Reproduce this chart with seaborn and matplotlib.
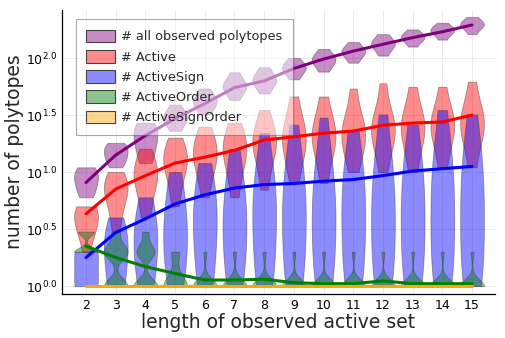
import pandas as pd
import matplotlib
matplotlib.use('Agg')
import matplotlib.pyplot as plt
from matplotlib.patches import Patch
from matplotlib.colors import to_rgba
from matplotlib.ticker import FixedLocator, FixedFormatter, NullLocator
import seaborn as sns


lengths = [2, 3, 4, 5, 6, 7, 8, 9, 10, 11, 12, 13, 14, 15]

# observed counts per active-set length (one list per length)
all_polytopes = [
    [6, 7, 8, 9, 10, 11],
    [11, 12, 13, 14, 15, 16, 17, 18],
    [12, 15, 18, 21, 24, 27],
    [23, 27, 29, 31, 33, 39],
    [32, 38, 40, 43, 46, 54],
    [43, 52, 55, 58, 62, 75],
    [49, 58, 62, 66, 70, 83],
    [65, 75, 80, 84, 88, 100],
    [76, 88, 94, 99, 104, 120],
    [91, 105, 111, 116, 121, 138],
    [105, 122, 130, 136, 142, 162],
    [126, 143, 149, 155, 160, 178],
    [145, 165, 172, 178, 184, 204],
    [162, 185, 193, 200, 207, 229],
]
active = [
    [2, 3, 3, 4, 4, 5, 5],
    [3, 4, 5, 6, 7, 7, 8, 9, 10],
    [4, 5, 7, 8, 9, 10, 11, 13, 16],
    [5, 7, 9, 11, 12, 13, 15, 17, 20],
    [6, 9, 11, 13, 15, 17, 19, 25],
    [6, 9, 12, 14, 16, 18, 21, 27],
    [7, 11, 14, 17, 19, 21, 24, 35],
    [8, 12, 15, 18, 21, 24, 28, 46],
    [8, 13, 16, 19, 22, 25, 29, 46],
    [10, 14, 17, 20, 23, 26, 31, 54],
    [10, 15, 19, 22, 25, 28, 33, 60],
    [10, 15, 19, 23, 26, 29, 34, 56],
    [11, 16, 20, 24, 27, 30, 35, 56],
    [11, 17, 21, 25, 28, 32, 38, 62],
]
active_sign = [
    [1, 1, 1, 2, 2, 2],
    [1, 1, 1, 2, 2, 2, 3, 3, 4],
    [1, 1, 1, 2, 2, 2, 3, 3, 4, 5, 6],
    [1, 1, 1, 2, 2, 2, 3, 3, 4, 5, 6, 8, 10],
    [1, 1, 1, 2, 2, 3, 3, 4, 5, 6, 7, 9, 12],
    [1, 1, 1, 2, 2, 3, 3, 4, 5, 6, 8, 10, 16],
    [1, 1, 1, 2, 2, 3, 4, 5, 6, 7, 9, 11, 22],
    [1, 1, 1, 2, 2, 3, 4, 5, 6, 8, 10, 12, 26],
    [1, 1, 1, 2, 2, 3, 4, 5, 6, 8, 10, 13, 30],
    [1, 1, 1, 2, 2, 3, 4, 5, 7, 8, 10, 13, 23],
    [1, 1, 1, 2, 2, 3, 4, 5, 7, 9, 11, 14, 32],
    [1, 1, 1, 2, 2, 3, 4, 5, 7, 9, 11, 14, 26],
    [1, 1, 1, 2, 2, 3, 4, 6, 8, 10, 12, 15, 35],
    [1, 1, 1, 2, 2, 3, 4, 6, 8, 10, 13, 15, 32],
]
active_order = [
    [2, 2, 2, 3, 3],
    [1, 1, 1, 2, 2, 2, 3],
    [1, 1, 1, 1, 2, 2, 2, 3],
    [1, 1, 1, 1, 1, 1, 2, 2],
    [1, 1, 1, 1, 1, 1, 1, 1, 2],
    [1, 1, 1, 1, 1, 1, 1, 1, 2],
    [1, 1, 1, 1, 1, 1, 1, 1, 2],
    [1, 1, 1, 1, 1, 1, 1, 1, 1, 2],
    [1, 1, 1, 1, 1, 1, 1, 1, 1, 2],
    [1, 1, 1, 1, 1, 1, 1, 1, 1, 2],
    [1, 1, 1, 1, 1, 1, 1, 1, 1, 2],
    [1, 1, 1, 1, 1, 1, 1, 1, 1, 2],
    [1, 1, 1, 1, 1, 1, 1, 1, 1, 2],
    [1, 1, 1, 1, 1, 1, 1, 1, 1, 2],
]

# mean curves
mean_all = [8.1, 14.1, 20.9, 29.5, 39.8, 55, 63, 81, 98, 115, 132, 151, 170, 195]
mean_active = [4.3, 7.1, 9.3, 12.0, 13.5, 15.5, 19.1, 20.4, 21.9, 22.9, 25.7, 26.9, 27.5, 31.6]
mean_active_sign = [1.78, 2.95, 3.89, 5.25, 6.31, 7.24, 7.76, 7.94, 8.32, 8.6, 9.3, 10.2, 10.7, 11.2]
mean_active_order = [2.24, 1.78, 1.48, 1.29, 1.13, 1.13, 1.15, 1.07, 1.05, 1.05, 1.11, 1.05, 1.05, 1.05]
mean_active_sign_order = [1, 1, 1, 1, 1, 1, 1, 1, 1, 1, 1, 1, 1, 1]

labels = ['# all observed polytopes', '# Active', '# ActiveSign', '# ActiveOrder', '# ActiveSignOrder']
colors = ['#800080', '#ff0000', '#0000ff', '#008000', '#ffa500']
samples = [all_polytopes, active, active_sign, active_order, None]
means = [mean_all, mean_active, mean_active_sign, mean_active_order, mean_active_sign_order]
# kde bandwidth per series: (short lengths 2-4, longer lengths)
bw = [(1.0, 1.0), (1.0, 1.0), (1.25, 1.25), (0.5, 1.0), (1.0, 1.0)]

sns.set_style('white')
plt.rcParams['font.family'] = ['DejaVu Sans']

fig = plt.figure(figsize=(5.06, 3.38), dpi=100)
ax = fig.add_axes([0.1225, 0.130, 0.8555, 0.840])

for smp, mn, c, b in zip(samples, means, colors, bw):
    if smp is not None:
        rows = [(k, v) for k, vals in zip(lengths, smp) for v in vals]
        df = pd.DataFrame(rows, columns=['length', 'count'])
        groups = [df] if b[0] == b[1] else [df[df['length'] <= 4], df[df['length'] > 4]]
        bws = [b[0]] if b[0] == b[1] else list(b)
        n0 = len(ax.collections)
        for part, bwa in zip(groups, bws):
            sns.violinplot(data=part, x='length', y='count', native_scale=True,
                           log_scale=(False, True), cut=0, inner=None, bw_adjust=bwa,
                           density_norm='width', width=0.8, color=c, saturation=1,
                           linewidth=0.6, ax=ax)
        for coll in ax.collections[n0:]:
            coll.set_facecolor(to_rgba(c, 0.45))
            coll.set_edgecolor((0.2, 0.2, 0.2, 0.45))
    sns.lineplot(x=lengths, y=mn, color=c, linewidth=2.2, ax=ax)

ax.set_yscale('log')
ax.set_xlim(1.19, 15.77)
ax.set_ylim(10 ** -0.07, 10 ** 2.42)

yt = [1, 10 ** 0.5, 10, 10 ** 1.5, 100]
ax.yaxis.set_major_locator(FixedLocator(yt))
ax.yaxis.set_major_formatter(FixedFormatter([r'$10^{0.0}$', r'$10^{0.5}$', r'$10^{1.0}$',
                                             r'$10^{1.5}$', r'$10^{2.0}$']))
ax.yaxis.set_minor_locator(NullLocator())
ax.set_xticks(lengths)
ax.set_xticklabels([str(k) for k in lengths])

ax.grid(True, color='#e6e6e6', linewidth=0.6)
ax.set_axisbelow(True)
for s in ['top', 'right']:
    ax.spines[s].set_visible(False)
for s in ['left', 'bottom']:
    ax.spines[s].set_color('black')
    ax.spines[s].set_linewidth(0.9)
ax.tick_params(direction='in', length=3, width=0.6, labelsize=9, colors='black')

ax.set_xlabel('length of observed active set', fontsize=13.5, labelpad=1)
ax.set_ylabel('number of polytopes', fontsize=13.5, labelpad=1)

handles = [Patch(facecolor=to_rgba(c, 0.45), edgecolor='#444444', linewidth=0.8) for c in colors]
leg = ax.legend(handles, labels, loc='upper left', bbox_to_anchor=(0.032, 0.968),
                borderaxespad=0, fontsize=9.3, fancybox=False, framealpha=0.5,
                edgecolor='#555555', handlelength=2.2, handleheight=1.15,
                labelspacing=0.5, handletextpad=0.5, borderpad=0.8)
leg.get_frame().set_linewidth(0.8)

fig.savefig('out.png', dpi=100)
